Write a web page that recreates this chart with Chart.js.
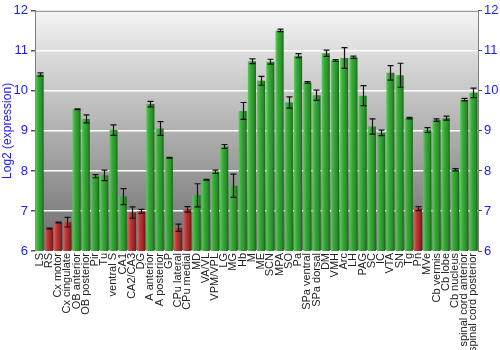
<!DOCTYPE html>
<html><head><meta charset="utf-8">
<script src="https://cdn.jsdelivr.net/npm/chart.js@4"></script>
<style>html,body{margin:0;padding:0;background:#fff}#wrap{width:500px;height:350px;position:relative}</style>
</head><body><div id="wrap"><canvas id="c" width="500" height="350"></canvas></div>
<script>
const categories = ["LS","RS","Cx motor","Cx cingulate","OB anterior","OB posterior","Pir","Tu","ventral S","CA1","CA2/CA3","DG","A anterior","A posterior","GP","CPu lateral","CPu medial","MD","VA/VL","VPM/VPL","LG","MG","Hb","M","ME","SCN","MPA","SO","Pa","SPa ventral","SPa dorsal","DM","VMH","Arc","LH","PAG","SC","IC","VTA","SN","Tg","Pn","MVe","Cb vermis","Cb lobe","Cb nucleus","spinal cord anterior","spinal cord posterior"];
const values = [10.41,6.56,6.71,6.72,9.54,9.30,7.87,7.89,9.02,7.36,6.96,6.99,9.67,9.06,8.33,6.58,7.04,7.39,7.78,7.98,8.61,7.63,9.50,10.74,10.25,10.73,11.51,9.71,10.88,10.21,9.89,10.94,10.76,10.82,10.84,9.88,9.11,8.95,10.45,10.39,9.32,7.06,9.02,9.27,9.32,8.03,9.78,9.95];
const errors = [0.04,0.01,0.01,0.12,0.01,0.10,0.04,0.13,0.13,0.20,0.14,0.05,0.07,0.17,0.01,0.09,0.07,0.29,0.01,0.04,0.05,0.29,0.21,0.06,0.11,0.06,0.03,0.14,0.05,0.02,0.13,0.08,0.02,0.26,0.03,0.25,0.19,0.07,0.18,0.30,0.02,0.05,0.06,0.03,0.05,0.03,0.03,0.12];
const lowFlags = values.map(v => v < 7.2);
const yTicks = [6,7,8,9,10,11,12];

const FONT = "'Liberation Sans', Arial, sans-serif";
const BLUE = '#1a1aff';

function barGradient(ctx){
  const chart = ctx.chart;
  const sx = chart.scales.x;
  const low = lowFlags[ctx.dataIndex];
  if (!sx || !chart.chartArea) return low ? '#b03030' : '#2e9e2e';
  const x = sx.getPixelForValue(ctx.dataIndex);
  const w = (sx.right - sx.left) / categories.length * 0.88;
  const g = chart.ctx.createLinearGradient(x - w/2, 0, x + w/2, 0);
  if (low){
    g.addColorStop(0,'#d96060'); g.addColorStop(0.35,'#b83838'); g.addColorStop(0.75,'#9a2626'); g.addColorStop(1,'#6e1616');
  } else {
    g.addColorStop(0,'#5ccc5c'); g.addColorStop(0.35,'#38a838'); g.addColorStop(0.75,'#2a8f2a'); g.addColorStop(1,'#1a621a');
  }
  return g;
}

const bgPlugin = {
  id:'bg',
  beforeDraw(chart){
    const {ctx, chartArea:a} = chart;
    const g = ctx.createLinearGradient(0,a.top,0,a.bottom);
    g.addColorStop(0,'#f4f4f4'); g.addColorStop(1,'#6c6c6c');
    ctx.save(); ctx.fillStyle = g; ctx.fillRect(a.left,a.top,a.right-a.left,a.bottom-a.top); ctx.restore();
  },
  afterDraw(chart){
    const {ctx, chartArea:a} = chart;
    ctx.save(); ctx.strokeStyle='#808080'; ctx.lineWidth=1;
    ctx.beginPath(); ctx.moveTo(a.left,a.top+0.5); ctx.lineTo(a.right,a.top+0.5); ctx.stroke(); ctx.restore();
  }
};

const errPlugin = {
  id:'err',
  afterDatasetsDraw(chart){
    const {ctx} = chart; const sx = chart.scales.x, sy = chart.scales.y;
    ctx.save(); ctx.strokeStyle='#111'; ctx.lineWidth=1.2;
    values.forEach((v,i)=>{
      const x = Math.round(sx.getPixelForValue(i)) + 0.5;
      const y1 = sy.getPixelForValue(v + errors[i]);
      const y2 = sy.getPixelForValue(v - errors[i]);
      ctx.beginPath();
      ctx.moveTo(x,y1); ctx.lineTo(x,y2);
      ctx.moveTo(x-3,y1); ctx.lineTo(x+3,y1);
      ctx.moveTo(x-3,y2); ctx.lineTo(x+3,y2);
      ctx.stroke();
    });
    ctx.restore();
  }
};

new Chart(document.getElementById('c'), {
  type:'bar',
  data:{ labels: categories, datasets:[{ data: values, backgroundColor: barGradient, borderWidth:0, barPercentage:0.88, categoryPercentage:1.0 }] },
  options:{
    responsive:false, animation:false,
    layout:{ padding:{ top:10, left:0, right:0, bottom:0 } },
    plugins:{ legend:{display:false}, tooltip:{enabled:false} },
    scales:{
      x:{
        grid:{ display:false, drawTicks:false },
        border:{ display:false },
        ticks:{ autoSkip:false, maxRotation:90, minRotation:90, color:'#222', padding:2, font:{ family:FONT, size:11 } },
        afterFit(s){ s.height = 99; }
      },
      y:{
        position:'left', min:6, max:12,
        afterBuildTicks(s){ s.ticks = yTicks.map(v=>({value:v})); },
        ticks:{ color:BLUE, padding:3, font:{ family:FONT, size:13 } },
        grid:{ color:'#ffffff', lineWidth:1.5, tickColor:'#555', tickLength:4 },
        border:{ color:'#808080' },
        title:{ display:true, text:'Log2 (expression)', color:BLUE, padding:{top:0,bottom:0}, font:{ family:FONT, size:12 } },
        afterFit(s){ s.width = 35; }
      },
      y2:{
        position:'right', min:6, max:12,
        afterBuildTicks(s){ s.ticks = yTicks.map(v=>({value:v})); },
        ticks:{ color:BLUE, padding:2, font:{ family:FONT, size:13 } },
        grid:{ drawOnChartArea:false, tickColor:'#555', tickLength:4 },
        border:{ color:'#808080' },
        afterFit(s){ s.width = 22; }
      }
    }
  },
  plugins:[bgPlugin, errPlugin]
});
</script></body></html>
